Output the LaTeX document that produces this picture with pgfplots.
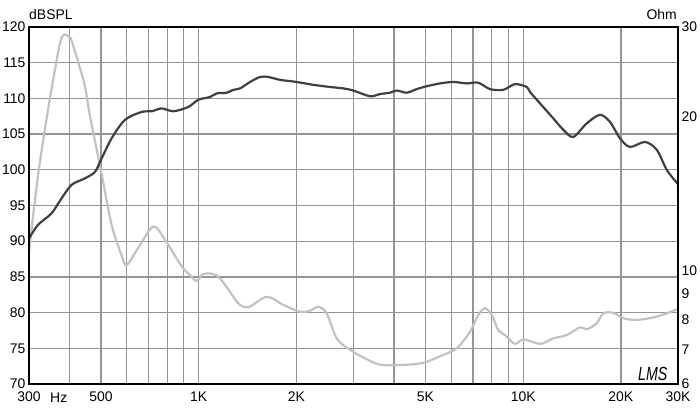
\documentclass[border=0pt]{standalone}
\usepackage{pgfplots}
\usepackage{pgfplotstable}
\pgfplotsset{compat=1.18}
\usepackage{fontspec}
\setmainfont{Liberation Sans}
\definecolor{splc}{HTML}{404040}
\definecolor{impc}{HTML}{C2C2C2}
\definecolor{gridc}{HTML}{959595}

\pgfplotstableread{
f db
300 90.4
320 92.3
352 93.9
378 96.0
406 97.9
446 98.8
479 99.7
500 101.4
539 104.4
593 107.0
667 108.1
717 108.2
769 108.6
836 108.2
929 108.8
997 109.8
1084 110.2
1137 110.7
1220 110.8
1279 111.2
1341 111.4
1440 112.3
1545 113.0
1639 113.0
1781 112.6
2005 112.3
2255 111.9
2540 111.6
2791 111.4
2996 111.1
3372 110.3
3620 110.6
3887 110.8
4077 111.1
4376 110.8
4697 111.3
5042 111.7
5544 112.1
6092 112.3
6699 112.1
7273 112.2
7903 111.3
8683 111.2
9439 112.0
10254 111.6
10497 110.9
11268 109.3
12383 107.2
13295 105.6
14273 104.6
15696 106.5
17248 107.7
18515 106.7
19880 104.4
21343 103.2
23740 103.9
25803 102.8
27693 100.0
29724 98.2
30000 98.0
}\spltable

\pgfplotstableread{
f z
300 10.9
320 15.4
344 20.8
369 26.8
378 28.6
387 29.0
401 28.6
406 28.2
426 25.5
446 23.0
463 20.0
503 15.4
539 12.3
579 10.7
600 10.26
652 11.1
725 12.2
787 11.5
886 10.2
940 9.8
986 9.55
1033 9.85
1109 9.85
1163 9.66
1249 9.09
1325 8.63
1422 8.48
1620 8.89
1823 8.57
2052 8.31
2203 8.35
2337 8.50
2480 8.25
2664 7.37
2926 7.0
3372 6.66
3666 6.54
4272 6.54
4922 6.60
5544 6.80
6240 7.05
6858 7.6
7273 8.19
7627 8.44
8000 8.19
8381 7.65
8791 7.48
9439 7.19
10014 7.34
11268 7.19
12383 7.37
13617 7.48
14966 7.75
15696 7.68
16851 7.89
17657 8.25
18954 8.27
20346 8.07
22377 8.01
25182 8.10
27693 8.25
30000 8.42
}\imptable

\begin{document}
\begin{tikzpicture}
\begin{axis}[
  scale only axis, width=649bp, height=357bp,
  at={(29bp,24bp)}, anchor=south west,
  xmode=log, xmin=300, xmax=30000,
  ymin=70, ymax=120,
  ytick={70,75,80,85,90,95,100,105,110,115,120},
  yticklabels={70,75,80,85,90,95,100,105,110,115,120},
  xtick={300,400,500,600,700,800,900,1000,2000,3000,4000,5000,6000,7000,8000,9000,10000,20000,30000},
  xticklabels={300,,500,,,,,1K,2K,,,5K,,,,,10K,20K,30K},
  major tick length=0pt,
  tick label style={font=\fontsize{14}{16}\selectfont},
  xticklabel style={yshift=-4bp},
  grid=major,
  major grid style={gridc, line width=1.3bp},
  axis line style={line width=1.6bp, black},
]
\addplot[draw=none, forget plot] coordinates {(1000,50)};
\end{axis}
\begin{axis}[
  scale only axis, width=649bp, height=357bp,
  at={(29bp,24bp)}, anchor=south west,
  xmode=log, xmin=300, xmax=30000,
  ymode=log, ymin=6, ymax=30,
  major tick length=0pt,
  tick label style={font=\fontsize{14}{16}\selectfont},
  axis x line=none,
  axis y line*=right,
  y axis line style={draw=none},
  ytick={6,7,8,9,10,20,30},
  yticklabels={6,7,8,9,10,20,30},
]
\addplot[impc, line width=2.2bp, smooth] table[x=f, y=z] {\imptable};
\end{axis}
\begin{axis}[
  scale only axis, width=649bp, height=357bp,
  at={(29bp,24bp)}, anchor=south west,
  xmode=log, xmin=300, xmax=30000,
  ymin=70, ymax=120, hide axis]
\addplot[splc, line width=2.2bp, smooth] table[x=f, y=db] {\spltable};
\end{axis}
\draw[line width=1.6bp, black] (29bp,24bp) rectangle (678bp,381bp);
\node[anchor=base west, inner sep=0pt, font=\fontsize{14}{16}\selectfont] at (29bp,388bp) {dBSPL};
\node[anchor=base east, inner sep=0pt, font=\fontsize{14}{16}\selectfont] at (677bp,388bp) {Ohm};
\node[anchor=base west, inner sep=0pt, font=\fontsize{14}{16}\selectfont] at (50bp,6bp) {Hz};
\node[anchor=base west, inner sep=0pt, font=\fontsize{19}{19}\selectfont\itshape, xscale=0.75] at (638bp,28bp) {LMS};
\pgfresetboundingbox
\useasboundingbox (0,0) rectangle (700bp,408bp);
\end{tikzpicture}
\end{document}
